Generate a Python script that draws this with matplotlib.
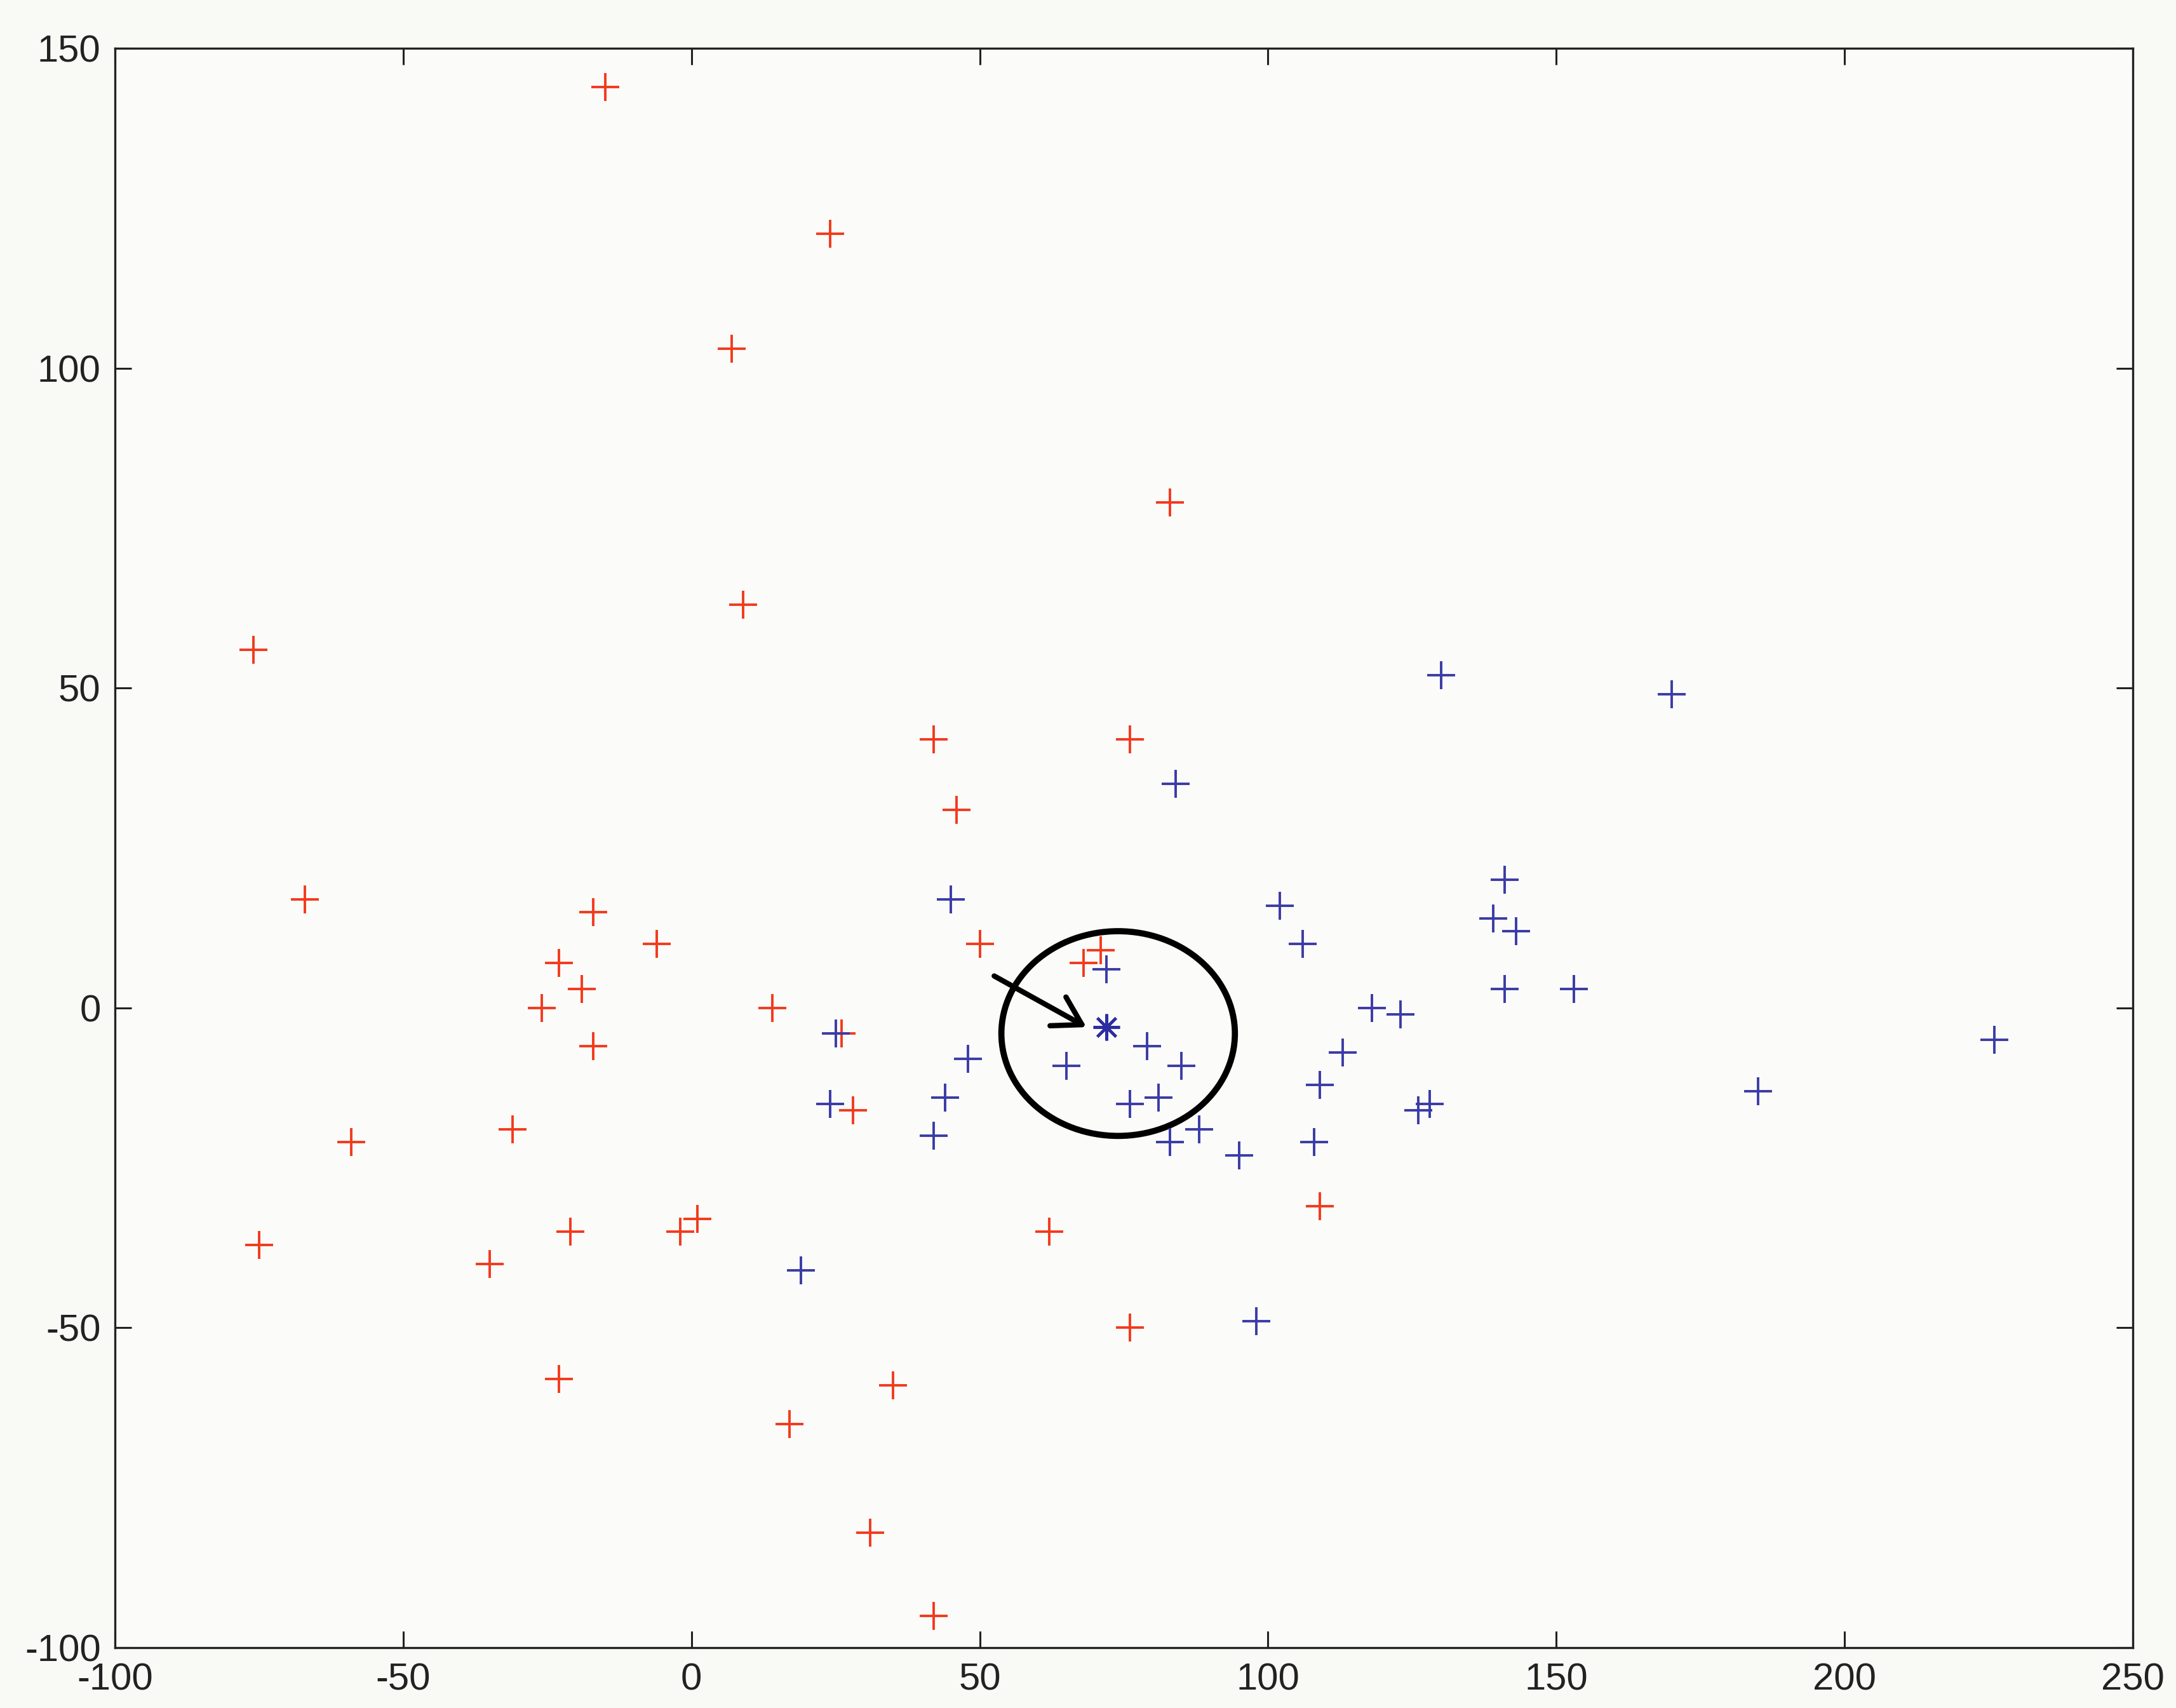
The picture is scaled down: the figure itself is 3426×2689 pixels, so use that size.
import matplotlib
matplotlib.use('Agg')
import matplotlib.pyplot as plt
from matplotlib.patches import Ellipse

plt.rcParams['font.family'] = ['Liberation Sans', 'DejaVu Sans']
plt.rcParams['axes.unicode_minus'] = False

# class 1 (red)
red_x = [-15, 24, 7, 83, 9, -76, 42, 76, 46, -67, -17, -6, 50, -23, -19, -26, 14,
         -17, 26, 68, 71, -59, -31, 28, -75, -21, -2, 1, -35, 62, 109, 76, -23, 35,
         17, 31, 42]
red_y = [144, 121, 103, 79, 63, 56, 42, 42, 31, 17, 15, 10, 10, 7, 3, 0, 0,
         -6, -4, 7, 9, -21, -19, -16, -37, -35, -35, -33, -40, -35, -31, -50, -58, -59,
         -65, -82, -95]

# class 2 (blue)
blue_x = [130, 170, 84, 45, 141, 102, 139, 143, 106, 72, 141, 153, 118, 123, 25,
          226, 79, 113, 48, 65, 85, 109, 185, 44, 24, 76, 81, 126, 128, 88, 83,
          95, 42, 108, 19, 98]
blue_y = [52, 49, 35, 17, 20, 16, 14, 12, 10, 6, 3, 3, 0, -1, -4,
          -5, -6, -7, -8, -9, -9, -12, -13, -14, -15, -15, -14, -16, -15, -19, -21,
          -23, -20, -21, -41, -49]

# test sample
test_x = [72]
test_y = [-3]

# neighbourhood circle and arrow
circ_cx, circ_cy = 74, -4
circ_w, circ_h = 40.5, 32
arrow_from = (52.5, 5)
arrow_to = (68.5, -3)

fig = plt.figure(figsize=(34.26, 26.89), dpi=100, facecolor='#f9f9f6')
ax = fig.add_axes([0.0528, 0.0353, 0.9274, 0.9364])
ax.set_facecolor('#fbfbf9')

ax.plot(red_x, red_y, '+', color='#f23a1c', markersize=32, markeredgewidth=2.8)
ax.plot(blue_x, blue_y, '+', color='#3b3ba6', markersize=32, markeredgewidth=2.8)
ax.plot(test_x, test_y, marker=(8, 2, 0), linestyle='none', color='#2e2ea0',
        markersize=30, markeredgewidth=3.2)

ax.add_patch(Ellipse((circ_cx, circ_cy), circ_w, circ_h, fill=False,
                     edgecolor='black', linewidth=7))
ax.annotate('', xy=arrow_to, xytext=arrow_from,
            arrowprops=dict(arrowstyle='->,head_length=0.5,head_width=0.3',
                            color='black', lw=6, mutation_scale=62,
                            shrinkA=0, shrinkB=0))

ax.set_xlim(-100, 250)
ax.set_ylim(-100, 150)
ax.set_xticks(range(-100, 251, 50))
ax.set_yticks(range(-100, 151, 50))

for s in ax.spines.values():
    s.set_linewidth(2.4)
    s.set_color('#222222')
ax.tick_params(direction='in', length=19, width=2.2, top=True, right=True,
               labelsize=43, colors='#222222')
ax.tick_params(axis='y', pad=16)
ax.tick_params(axis='x', pad=17)

fig.savefig('out.png', dpi=100, facecolor=fig.get_facecolor())
